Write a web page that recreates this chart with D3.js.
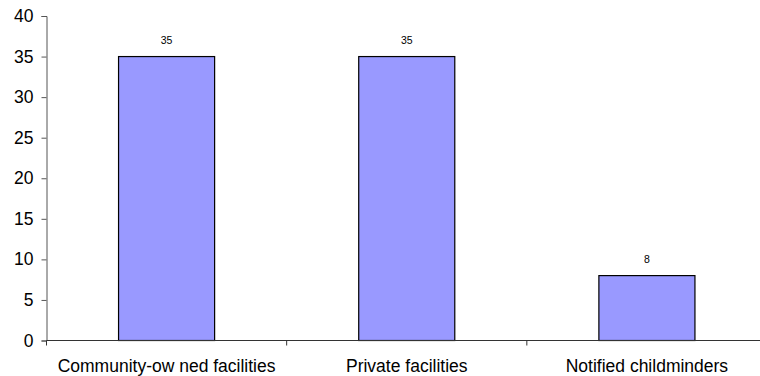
<!DOCTYPE html>
<html>
<head>
<meta charset="utf-8">
<script src="https://cdn.jsdelivr.net/npm/d3@7"></script>
<style>
  html, body { margin: 0; padding: 0; background: #fff; }
  svg { display: block; }
  text { font-family: "Liberation Sans", Arial, sans-serif; fill: #000; }
</style>
</head>
<body>
<svg id="chart" width="760" height="376"></svg>
<script>
// Childcare provision by type
const categories = ["Community-ow ned facilities", "Private facilities", "Notified childminders"];
const values = [35, 35, 8];
const yTicks = [0, 5, 10, 15, 20, 25, 30, 35, 40];

const svg = d3.select("#chart");
const plot = { left: 46.5, right: 767, top: 16, bottom: 340.5 };

const x = d3.scaleBand()
  .domain(categories)
  .range([plot.left, plot.right])
  .paddingInner(0.6)
  .paddingOuter(0.3);

const xBand = d3.scaleBand()
  .domain(categories)
  .range([plot.left, plot.right]);

const y = d3.scaleLinear()
  .domain([0, 40])
  .range([plot.bottom, plot.top]);

// bars
svg.append("g")
  .selectAll("rect")
  .data(values)
  .join("rect")
  .attr("x", (d, i) => x(categories[i]))
  .attr("y", d => y(d))
  .attr("width", x.bandwidth())
  .attr("height", d => y(0) - y(d))
  .attr("fill", "#9999ff")
  .attr("stroke", "#000")
  .attr("stroke-width", 1.2);

// value labels
svg.append("g")
  .selectAll("text")
  .data(values)
  .join("text")
  .attr("x", (d, i) => x(categories[i]) + x.bandwidth() / 2)
  .attr("y", d => y(d) - 13)
  .attr("text-anchor", "middle")
  .attr("font-size", 10.5)
  .text(d => d);

// y axis
const yAxis = d3.axisLeft(y).tickValues(yTicks).tickSize(5).tickPadding(8);
const gy = svg.append("g")
  .attr("transform", `translate(${plot.left},0)`)
  .call(yAxis);
gy.select(".domain").attr("stroke", "#555");
gy.selectAll(".tick line").attr("stroke", "#555");
gy.selectAll(".tick text").attr("font-size", 17.5).attr("font-family", "Liberation Sans, Arial, sans-serif").attr("fill", "#000");

// x axis: baseline with category boundary ticks
const gx = svg.append("g");
gx.append("line")
  .attr("x1", plot.left).attr("x2", plot.right)
  .attr("y1", y(0)).attr("y2", y(0))
  .attr("stroke", "#333");
gx.selectAll("line.sep")
  .data(categories)
  .join("line")
  .attr("class", "sep")
  .attr("x1", d => xBand(d)).attr("x2", d => xBand(d))
  .attr("y1", y(0)).attr("y2", y(0) + 5)
  .attr("stroke", "#333");
gx.selectAll("text")
  .data(categories)
  .join("text")
  .attr("x", d => xBand(d) + xBand.bandwidth() / 2)
  .attr("y", y(0) + 31.5)
  .attr("text-anchor", "middle")
  .attr("font-size", 17.5)
  .text(d => d);
</script>
</body>
</html>
